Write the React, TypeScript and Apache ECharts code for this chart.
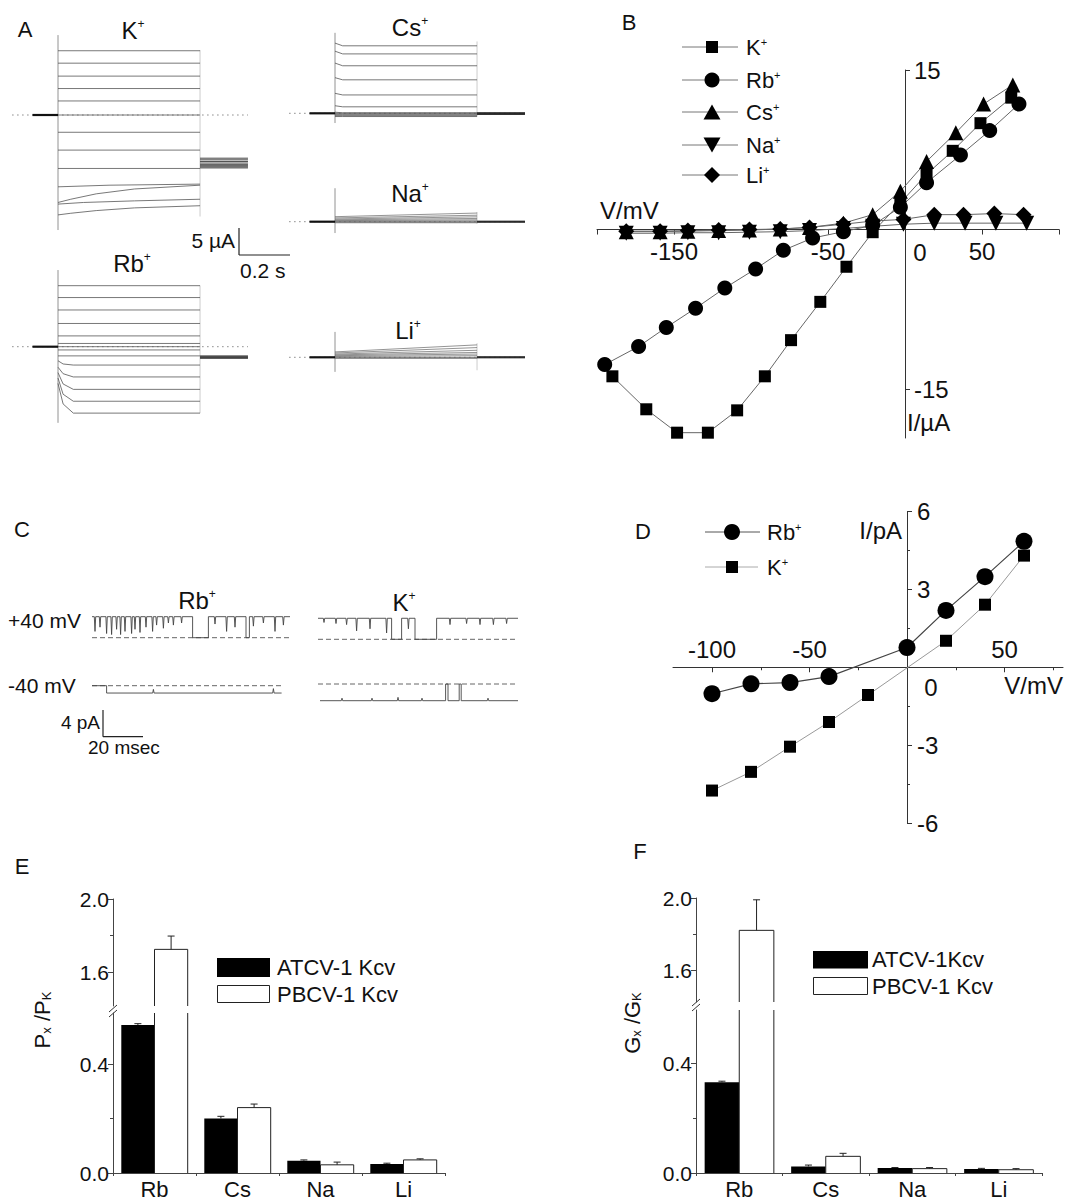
import React, { useEffect, useRef } from "react";
import * as echarts from "echarts";

const FONT = "'Liberation Sans', Arial, Helvetica, sans-serif";
const INK = "#111";
const TRACE = "#555";

// ---------------- Panel A: voltage-clamp current traces (time in s, current in µA) ----------------
const A_PULSE_END = 0.557;
const A_HOLD_START = -0.1;
const A_REC_END = 0.745;
const A_DOT_START = -0.18;

const A_K_LEVELS = [11.9, 9.6, 7.2, 4.9, 2.6, 0, -3.2, -6.5, -9.9];
const A_K_SLOW = [
  [[0, -13.3], [0.2, -13.0], [0.557, -12.8]],
  [[0, -16.2], [0.05, -15.6], [0.15, -14.6], [0.3, -13.7], [0.557, -13.0]],
  [[0, -16.5], [0.1, -16.2], [0.3, -15.9], [0.557, -15.6]],
  [[0, -18.5], [0.05, -18.2], [0.15, -17.7], [0.3, -17.2], [0.557, -16.8]],
];
const A_K_TAIL = [-8.0, -8.3, -8.6, -8.9, -9.2, -9.4, -9.6, -9.8];
const A_K_EDGES = [14.8, -21.3, 12.0, -18.8];

const A_RB_LEVELS = [11.3, 9.1, 6.8, 4.3, 2.0, 0.6, 0, -0.6, -1.7];
const A_RB_ACT_T0 = [-2.6, -3.8, -4.8, -5.8, -6.8];
const A_RB_ACT_T20 = [-3.2, -5.0, -6.9, -8.8, -10.6];
const A_RB_ACT_SS = [-3.4, -5.6, -7.9, -10.1, -12.3];
const A_RB_TAIL = [-1.7, -1.85, -1.95, -2.05, -2.15];
const A_RB_EDGES = [14.2, -14.1, 11.3, -12.3];

const A_CS_START = [13.0, 11.5, 9.3, 6.6, 3.7, 1.4, 0.2, 0, -0.15, -0.3, -0.45, -0.6];
const A_CS_SS = [12.5, 11.0, 8.8, 6.2, 3.4, 1.2, 0.1, 0, -0.15, -0.3, -0.45, -0.6];
const A_CS_TAIL = [0.1, 0, -0.1, -0.2];
const A_CS_EDGES = [14.9, -1.8, 13.3, -0.6];

const A_NA_START = [0.93, 0.7, 0.5, 0.35, 0.2, 0.1, 0, -0.1, -0.2];
const A_NA_END = [1.6, 1.2, 0.9, 0.6, 0.35, 0.15, 0, -0.1, -0.2];
const A_NA_TAIL = [0.1, 0, -0.1];
const A_NA_EDGES = [6.2, -2.1, 1.8, -0.4];

const A_LI_START = [1.0, 0.8, 0.6, 0.45, 0.3, 0.15, 0, -0.1, -0.2];
const A_LI_END = [2.3, 1.8, 1.3, 0.9, 0.6, 0.3, 0, -0.1, -0.2];
const A_LI_TAIL = [0.1, 0, -0.1];
const A_LI_EDGES = [4.7, -2.7, 2.6, -2.4];

// ---------------- Panel B: whole-cell I/V (mV, µA) ----------------
const B_K_V = [-190, -168, -148, -128, -109, -91, -74, -55, -38, -21, -3, 14, 31, 49, 69];
const B_K_I = [-13.8, -16.9, -19.1, -19.1, -17.0, -13.8, -10.4, -6.8, -3.5, -0.25, 2.5, 5.2, 7.4, 10.0, 12.4];
const B_RB_V = [-195, -173, -155, -136, -117, -97, -79, -60, -40, -21, -3, 14, 36, 55, 74];
const B_RB_I = [-12.7, -11.0, -9.2, -7.4, -5.5, -3.7, -1.95, -0.8, -0.2, 0.4, 2.1, 4.4, 7.0, 9.3, 11.8];
const B_CS_V = [-181, -159, -141, -121, -101, -81, -62, -40, -21, -3, 14, 33, 51, 70];
const B_CS_I = [-0.2, -0.2, -0.15, -0.1, -0.05, 0.05, 0.2, 0.6, 1.4, 3.6, 6.4, 9.1, 11.8, 13.6];
const B_NA_V = [-181, -159, -141, -121, -101, -81, -62, -40, -21, -1, 19, 39, 59, 79];
const B_NA_I = [-0.35, -0.35, -0.3, -0.3, -0.25, -0.2, -0.1, 0.1, 0.3, 0.5, 0.6, 0.6, 0.6, 0.6];
const B_LI_V = [-181, -159, -141, -121, -101, -81, -62, -40, -21, -1, 19, 38, 58, 77];
const B_LI_I = [-0.15, -0.15, -0.1, -0.05, 0, 0.05, 0.2, 0.5, 0.8, 0.95, 1.4, 1.4, 1.5, 1.4];
const B_X_RANGE = [-200, 100];
const B_Y_RANGE = [-19.6, 15];
const B_X_TICK_LABELS = [-150, -50, 50];
const B_Y_TICKS = [-15, 15];

// ---------------- Panel C: single-channel records (ms, pA) ----------------
const C_RB_POS_OPEN = 3.15;
const C_RB_POS_END = 99;
const C_RB_POS_SHUT = [[50.3, 58.2], [77, 78.7]];
const C_RB_POS_FLICK = [[1.5, 0.7], [4, 0.5], [7.3, 0.8], [9.8, 0.85], [12.3, 0.6], [14.3, 0.85], [16.5, 0.7], [19.8, 0.8], [21.5, 0.6], [24, 0.75], [27, 0.5], [30.3, 0.7], [32.3, 0.4], [35.7, 0.55], [38.2, 0.3], [40.7, 0.4], [44.8, 0.3], [61.5, 0.35], [67.3, 0.7], [71.5, 0.5], [80.7, 0.45], [85.7, 0.3], [91.5, 0.7], [95.7, 0.4]];
const C_RB_NEG_OPEN = -1.1;
const C_RB_NEG_END = 94.8;
const C_RB_NEG_SHUT = [[0, 7.3]];
const C_RB_NEG_FLICK = [[30.7, 0.5], [90.7, 0.6]];
const C_K_POS_OPEN = 3.15;
const C_K_POS_END = 100;
const C_K_POS_SHUT = [[36.8, 41.8], [48.5, 59.3]];
const C_K_POS_FLICK = [[3, 0.2], [9, 0.25], [14.3, 0.3], [19.3, 0.6], [26, 0.5], [34.3, 0.7], [45.2, 0.5], [66, 0.3], [74.3, 0.25], [81, 0.3], [87.7, 0.3], [94.3, 0.25]];
const C_K_NEG_OPEN = -2.5;
const C_K_NEG_END = 100;
const C_K_NEG_SHUT = [[63.8, 65.0], [70.6, 71.6]];
const C_K_NEG_FLICK = [[12, 0.15], [27, 0.15], [40, 0.2], [52, 0.15], [85, 0.15]];

// ---------------- Panel D: single-channel I/V (mV, pA) ----------------
const D_RB_V = [-100, -80, -60, -40, 0, 20, 40, 60];
const D_RB_I = [-1.02, -0.64, -0.59, -0.36, 0.76, 2.19, 3.49, 4.85];
const D_K_V = [-100, -80, -60, -40, -20, 20, 40, 60];
const D_K_I = [-4.75, -4.03, -3.06, -2.11, -1.07, 1.02, 2.41, 4.3];
const D_X_RANGE = [-120, 80];
const D_Y_RANGE = [-6, 6];
const D_X_TICKS = [-100, -50, 0, 50];
const D_X_MINOR = [-75, -25, 25, 75];
const D_X_LABELS = [-100, -50, 50];
const D_Y_LABELS = [-6, -3, 3, 6];

// ---------------- Panels E, F: permeability / conductance ratios ----------------
const CATS = ["Rb", "Cs", "Na", "Li"];
const E_ATCV = [0.543, 0.2, 0.045, 0.033];
const E_ATCV_ERR = [0.005, 0.008, 0.003, 0.003];
const E_PBCV = [1.724, 0.24, 0.03, 0.048];
const E_PBCV_ERR = [0.073, 0.013, 0.01, 0.004];
const F_ATCV = [0.332, 0.024, 0.018, 0.015];
const F_ATCV_ERR = [0.004, 0.005, 0.002, 0.002];
const F_PBCV = [1.821, 0.061, 0.016, 0.012];
const F_PBCV_ERR = [0.169, 0.011, 0.004, 0.004];
const BAR_TOP = 2.0;
const BAR_HIGH_TICKS = [1.6, 2.0];
const BAR_HIGH_MINOR = [1.8];
const BAR_LOW_TICKS = [0, 0.4];
const BAR_LOW_MINOR = [0.2];

type Box = { left: number; top: number; width: number; height: number };

function chan(open: number, end: number, shut: number[][], flick: number[][], start = 0) {
  const ev: any[] = [
    ...shut.map(([a, b]) => ({ t: a, c: true, a, b })),
    ...flick.map(([t, d]) => ({ t, c: false, d })),
  ].sort((p, q) => p.t - q.t);
  const pts: number[][] = [];
  if (!(ev.length && ev[0].c && ev[0].a <= start)) pts.push([start, open]);
  for (const e of ev) {
    if (e.c) {
      if (e.a > start) pts.push([e.a, open]);
      pts.push([Math.max(e.a, start), 0], [e.b, 0], [e.b, open]);
    } else {
      pts.push([e.t - 0.35, open], [e.t, open * (1 - e.d)], [e.t + 0.35, open]);
    }
  }
  pts.push([end, open]);
  return pts;
}

// pixel distance from the low end of an axis to its zero
const zeroFromLow = (range: number[], size: number) => ((0 - range[0]) / (range[1] - range[0])) * size;

function buildOption() {
  const grids: any[] = [];
  const xAxes: any[] = [];
  const yAxes: any[] = [];
  const xOver: any[] = [];
  const yOver: any[] = [];
  const series: any[] = [];
  const gfx: any[] = [];

  const pxGrid = (b: Box, origin: number[], pxX: number, pxY: number) => {
    const i = grids.length;
    grids.push({ ...b });
    xAxes.push({ gridIndex: i, type: "value", show: false, min: (b.left - origin[0]) / pxX, max: (b.left + b.width - origin[0]) / pxX });
    yAxes.push({ gridIndex: i, type: "value", show: false, max: (origin[1] - b.top) / pxY, min: (origin[1] - b.top - b.height) / pxY });
    return i;
  };
  const line = (g: number, data: number[][], color = TRACE, width = 0.8, type: any = "solid", z = 2) =>
    series.push({ type: "line", xAxisIndex: g, yAxisIndex: g, data, symbol: "none", silent: true, lineStyle: { color, width, type }, z, emphasis: { disabled: true } });

  const rich = (size: number) => ({
    sup: { fontSize: Math.round(size * 0.52), verticalAlign: "top", fill: INK, fontFamily: FONT },
    s: { fontSize: Math.round(size * 0.6), verticalAlign: "bottom", fill: INK, fontFamily: FONT },
  });
  const txt = (text: string, x: number, y: number, size: number, align = "center", v = "middle", extra: any = {}) =>
    gfx.push({
      type: "text", x, y, silent: true, ...extra,
      style: { text, fontSize: size, fontFamily: FONT, fill: INK, align, verticalAlign: v, textAlign: align, textVerticalAlign: v, rich: rich(size) },
    });
  const gl = (x1: number, y1: number, x2: number, y2: number, stroke = "#222", w = 1.2) =>
    gfx.push({ type: "line", silent: true, shape: { x1, y1, x2, y2 }, style: { stroke, lineWidth: w } });

  // ===== Panel A =====
  const PX_S = 255, PX_UA = 5.4;
  const aCommon = (g: number, e: number[]) => {
    line(g, [[A_DOT_START, 0], [A_REC_END, 0]], "#888", 1, [1.5, 3.5], 1);
    line(g, [[0, e[0]], [0, e[1]]], "#777", 0.8);
    line(g, [[A_PULSE_END, e[2]], [A_PULSE_END, e[3]]], "#aaa", 0.6);
    line(g, [[A_HOLD_START, 0], [0, 0]], "#111", 2.2, "solid", 3);
  };
  const gK = pxGrid({ left: 10, top: 30, width: 240, height: 205 }, [58, 115], PX_S, PX_UA);
  aCommon(gK, A_K_EDGES);
  A_K_LEVELS.forEach((v) => line(gK, [[0, v], [A_PULSE_END, v]]));
  A_K_SLOW.forEach((p) => line(gK, p));
  A_K_TAIL.forEach((v) => line(gK, [[A_PULSE_END, v], [A_REC_END, v]], "#333", 0.9));

  const gCs = pxGrid({ left: 283, top: 28, width: 245, height: 100 }, [335, 113.3], PX_S, PX_UA);
  aCommon(gCs, A_CS_EDGES);
  A_CS_START.forEach((s, i) => line(gCs, [[0, s], [0.03, A_CS_SS[i]], [A_PULSE_END, A_CS_SS[i]]]));
  A_CS_TAIL.forEach((v) => line(gCs, [[A_PULSE_END, v], [A_REC_END, v]], "#222", 1));

  const gNa = pxGrid({ left: 280, top: 183, width: 248, height: 55 }, [335, 221.7], PX_S, PX_UA);
  aCommon(gNa, A_NA_EDGES);
  A_NA_START.forEach((s, i) => line(gNa, [[0, s], [A_PULSE_END, A_NA_END[i]]], "#666", 0.7));
  A_NA_TAIL.forEach((v) => line(gNa, [[A_PULSE_END, v], [A_REC_END, v]], "#222", 1));

  const gLi = pxGrid({ left: 280, top: 325, width: 248, height: 52 }, [335, 357.3], PX_S, PX_UA);
  aCommon(gLi, A_LI_EDGES);
  A_LI_START.forEach((s, i) => line(gLi, [[0, s], [A_PULSE_END, A_LI_END[i]]], "#666", 0.7));
  A_LI_TAIL.forEach((v) => line(gLi, [[A_PULSE_END, v], [A_REC_END, v]], "#222", 1));

  const gRb = pxGrid({ left: 10, top: 265, width: 240, height: 165 }, [58, 346.7], PX_S, PX_UA);
  aCommon(gRb, A_RB_EDGES);
  A_RB_LEVELS.forEach((v) => line(gRb, [[0, v], [A_PULSE_END, v]]));
  A_RB_ACT_SS.forEach((ss, i) => line(gRb, [[0, A_RB_ACT_T0[i]], [0.02, A_RB_ACT_T20[i]], [0.06, ss], [A_PULSE_END, ss]]));
  A_RB_TAIL.forEach((v) => line(gRb, [[A_PULSE_END, v], [A_REC_END, v]], "#333", 0.9));

  txt("A", 25, 29, 22);
  txt("K{sup|+}", 133, 30, 24);
  txt("Cs{sup|+}", 410, 27, 24);
  txt("Na{sup|+}", 410, 193, 24);
  txt("Li{sup|+}", 408, 330, 24);
  txt("Rb{sup|+}", 132, 263, 24);
  txt("5 µA", 235, 240, 21, "right");
  txt("0.2 s", 240, 270, 21, "left");
  gl(239, 228, 239, 255);
  gl(239, 255, 290, 255);

  const axisLineStyle = { color: "#333", width: 1 };

  // ===== Panel B =====
  const gB = grids.length;
  const bBox = { left: 597, top: 70, width: 462, height: 368 };
  grids.push(bBox);
  xAxes.push({
    gridIndex: gB, type: "value", min: B_X_RANGE[0], max: B_X_RANGE[1], interval: 50, position: "bottom",
    offset: -zeroFromLow(B_Y_RANGE, bBox.height),
    axisLine: { show: true, onZero: false, lineStyle: axisLineStyle },
    axisTick: { show: true, length: 5, lineStyle: axisLineStyle },
    axisLabel: { customValues: B_X_TICK_LABELS, fontSize: 24, color: INK, fontFamily: FONT, margin: 10 },
    splitLine: { show: false },
  });
  yAxes.push({
    gridIndex: gB, type: "value", min: B_Y_RANGE[0], max: B_Y_RANGE[1], position: "left",
    offset: -zeroFromLow(B_X_RANGE, bBox.width),
    axisLine: { show: true, onZero: false, lineStyle: axisLineStyle },
    axisTick: { show: true, inside: true, length: 5, customValues: B_Y_TICKS, lineStyle: axisLineStyle },
    axisLabel: { inside: true, customValues: B_Y_TICKS, fontSize: 24, color: INK, fontFamily: FONT, margin: 9 },
    splitLine: { show: false },
  });
  const bSer = (V: number[], I: number[], symbol: string, size: any, rot = 0) =>
    series.push({
      type: "line", xAxisIndex: gB, yAxisIndex: gB, data: V.map((v, i) => [v, I[i]]),
      symbol, symbolSize: size, symbolRotate: rot, itemStyle: { color: "#000" },
      lineStyle: { color: "#666", width: 1 }, silent: true, z: 3, emphasis: { disabled: true },
    });
  bSer(B_LI_V, B_LI_I, "diamond", 16);
  bSer(B_NA_V, B_NA_I, "triangle", 15, 180);
  bSer(B_CS_V, B_CS_I, "triangle", 15);
  bSer(B_RB_V, B_RB_I, "circle", 15);
  bSer(B_K_V, B_K_I, "rect", 12);

  txt("B", 629, 22, 22);
  txt("V/mV", 600, 210, 24, "left");
  txt("0", 920, 252, 24);
  txt("I/µA", 907, 422, 24, "left");
  const bLeg = [47, 80, 112, 145, 175];
  const bNames = ["K", "Rb", "Cs", "Na", "Li"];
  bLeg.forEach((y, i) => {
    gl(682, y, 738, y, "#777", 1);
    txt(bNames[i] + "{sup|+}", 746, y, 22, "left");
  });
  gfx.push({ type: "rect", silent: true, shape: { x: 706, y: 41, width: 12, height: 12 }, style: { fill: "#000" } });
  gfx.push({ type: "circle", silent: true, shape: { cx: 712, cy: 80, r: 7.5 }, style: { fill: "#000" } });
  gfx.push({ type: "polygon", silent: true, shape: { points: [[712, 104.5], [720.5, 119.5], [703.5, 119.5]] }, style: { fill: "#000" } });
  gfx.push({ type: "polygon", silent: true, shape: { points: [[703.5, 137.5], [720.5, 137.5], [712, 152.5]] }, style: { fill: "#000" } });
  gfx.push({ type: "polygon", silent: true, shape: { points: [[712, 167], [720, 175], [712, 183], [704, 175]] }, style: { fill: "#000" } });

  // ===== Panel C =====
  const PX_MS = 2, PX_PA = 6.675;
  const cRp = pxGrid({ left: 88, top: 605, width: 208, height: 40 }, [92, 637.7], PX_MS, PX_PA);
  const cRn = pxGrid({ left: 88, top: 672, width: 208, height: 30 }, [92, 685.7], PX_MS, PX_PA);
  const cKp = pxGrid({ left: 314, top: 605, width: 208, height: 40 }, [318, 639.3], PX_MS, PX_PA);
  const cKn = pxGrid({ left: 314, top: 670, width: 208, height: 38 }, [318, 684], PX_MS, PX_PA);
  const dash = (g: number, end: number) => line(g, [[0, 0], [end, 0]], "#666", 1, [5, 3], 1);
  dash(cRp, 100); dash(cRn, 95); dash(cKp, 100); dash(cKn, 100);
  line(cRp, chan(C_RB_POS_OPEN, C_RB_POS_END, C_RB_POS_SHUT, C_RB_POS_FLICK), "#444", 0.9);
  line(cRn, chan(C_RB_NEG_OPEN, C_RB_NEG_END, C_RB_NEG_SHUT, C_RB_NEG_FLICK), "#444", 0.9);
  line(cKp, chan(C_K_POS_OPEN, C_K_POS_END, C_K_POS_SHUT, C_K_POS_FLICK), "#444", 0.9);
  line(cKn, chan(C_K_NEG_OPEN, C_K_NEG_END, C_K_NEG_SHUT, C_K_NEG_FLICK, 1), "#444", 0.9);
  txt("C", 22, 529, 22);
  txt("Rb{sup|+}", 197, 600, 24);
  txt("K{sup|+}", 404, 602, 24);
  txt("+40 mV", 8, 620, 21, "left");
  txt("-40 mV", 8, 685, 21, "left");
  txt("4 pA", 100, 722, 19, "right");
  txt("20 msec", 88, 747, 19, "left");
  gl(103, 710, 103, 736.7);
  gl(103, 736.7, 143, 736.7);

  // ===== Panel D =====
  const gD = grids.length;
  const dBox = { left: 673, top: 511.5, width: 390, height: 311.5 };
  grids.push(dBox);
  const dXOffset = -zeroFromLow(D_Y_RANGE, dBox.height);
  xAxes.push({
    gridIndex: gD, type: "value", min: D_X_RANGE[0], max: D_X_RANGE[1], position: "bottom", offset: dXOffset,
    axisLine: { show: true, onZero: false, lineStyle: axisLineStyle },
    axisTick: { show: true, length: 5, customValues: D_X_TICKS, lineStyle: axisLineStyle },
    axisLabel: { inside: true, customValues: D_X_LABELS, fontSize: 24, color: INK, fontFamily: FONT, margin: 6 },
    splitLine: { show: false },
  });
  yAxes.push({
    gridIndex: gD, type: "value", min: D_Y_RANGE[0], max: D_Y_RANGE[1], interval: 3, position: "left",
    offset: -zeroFromLow(D_X_RANGE, dBox.width),
    axisLine: { show: true, onZero: false, lineStyle: axisLineStyle },
    axisTick: { show: true, inside: true, length: 5, lineStyle: axisLineStyle },
    minorTick: { show: true, splitNumber: 2, length: 3, lineStyle: axisLineStyle },
    axisLabel: { inside: true, customValues: D_Y_LABELS, fontSize: 24, color: INK, fontFamily: FONT, margin: 10 },
    splitLine: { show: false }, minorSplitLine: { show: false },
  });
  xOver.push({
    gridIndex: gD, type: "value", min: D_X_RANGE[0], max: D_X_RANGE[1], position: "bottom", offset: dXOffset,
    axisLine: { show: false, onZero: false },
    axisTick: { show: true, length: 3, customValues: D_X_MINOR, lineStyle: axisLineStyle },
    axisLabel: { show: false }, splitLine: { show: false },
  });
  series.push({
    type: "line", xAxisIndex: gD, yAxisIndex: gD, data: D_K_V.map((v, i) => [v, D_K_I[i]]),
    symbol: "rect", symbolSize: 12, itemStyle: { color: "#000" }, lineStyle: { color: "#999", width: 1 }, silent: true, z: 3,
  });
  series.push({
    type: "line", xAxisIndex: gD, yAxisIndex: gD, data: D_RB_V.map((v, i) => [v, D_RB_I[i]]),
    symbol: "circle", symbolSize: 17, itemStyle: { color: "#000" }, lineStyle: { color: "#444", width: 1.2 }, silent: true, z: 4,
  });
  txt("D", 643, 531, 22);
  txt("I/pA", 902, 530, 24, "right");
  txt("V/mV", 1063, 685, 24, "right");
  txt("0", 931, 687, 24);
  gl(705, 532, 760, 532, "#555", 1);
  gfx.push({ type: "circle", silent: true, shape: { cx: 732, cy: 532, r: 8 }, style: { fill: "#000" } });
  txt("Rb{sup|+}", 767, 532, 22, "left");
  gl(705, 567, 758, 567, "#aaa", 1);
  gfx.push({ type: "rect", silent: true, shape: { x: 726, y: 561, width: 12, height: 12 }, style: { fill: "#000" } });
  txt("K{sup|+}", 767, 567, 22, "left");

  // ===== Panels E, F =====
  const yStyle = (ticks: number[]) => ({
    axisLine: { show: true, onZero: false, lineStyle: { color: "#444", width: 1 } },
    axisTick: { show: true, customValues: ticks, length: 5, lineStyle: { color: "#444" } },
    axisLabel: { customValues: ticks, formatter: (v: number) => v.toFixed(1), fontSize: 21, color: INK, fontFamily: FONT, margin: 4 },
    splitLine: { show: false },
  });
  const minorY = (g: number, min: number, max: number, ticks: number[]) =>
    yOver.push({
      gridIndex: g, type: "value", min, max, position: "left",
      axisLine: { show: false, onZero: false },
      axisTick: { show: true, customValues: ticks, length: 3, lineStyle: { color: "#444" } },
      axisLabel: { show: false }, splitLine: { show: false },
    });
  const outlineItem = (params: any, api: any) => {
    const cat = api.value(0), v = api.value(1);
    const band = api.size([1, 0], [cat, v])[0];
    const cs = params.coordSys;
    const c = api.coord([cat, v]);
    const bottom = cs.y + cs.height;
    const yTop = c[1];
    if (yTop >= bottom - 0.5) return null;
    const yBase = Math.min(api.coord([cat, 0])[1], bottom);
    const xl = c[0], xr = c[0] + band * 0.4;
    const st = { stroke: "#222", lineWidth: 1, fill: null };
    if (yTop < cs.y) {
      return {
        type: "group", children: [
          { type: "line", shape: { x1: xl, y1: yBase, x2: xl, y2: cs.y }, style: st },
          { type: "line", shape: { x1: xr, y1: yBase, x2: xr, y2: cs.y }, style: st },
        ],
      };
    }
    return { type: "polyline", shape: { points: [[xl, yBase], [xl, yTop], [xr, yTop], [xr, yBase]] }, style: st };
  };
  const errItem = (params: any, api: any) => {
    const cat = api.value(0), v = api.value(1), e = api.value(2), side = api.value(3);
    const band = api.size([1, 0], [cat, v])[0];
    const cs = params.coordSys;
    const c0 = api.coord([cat, v]);
    const c1 = api.coord([cat, v + e]);
    if (c0[1] < cs.y - 0.5 || c0[1] > cs.y + cs.height + 0.5) return null;
    const x = c0[0] + side * band * 0.2;
    const st = { stroke: "#222", lineWidth: 1 };
    return {
      type: "group", children: [
        { type: "line", shape: { x1: x, y1: c0[1], x2: x, y2: c1[1] }, style: st },
        { type: "line", shape: { x1: x - 3.5, y1: c1[1], x2: x + 3.5, y2: c1[1] }, style: st },
      ],
    };
  };
  const barPanel = (up: Box, low: Box, pxUp: number, pxLow: number, atcv: number[], atcvErr: number[], pbcv: number[], pbcvErr: number[]) => {
    const gU = grids.length;
    grids.push(up);
    const upMin = BAR_TOP - up.height / pxUp;
    xAxes.push({ gridIndex: gU, type: "category", data: CATS, show: false });
    yAxes.push({ gridIndex: gU, type: "value", min: upMin, max: BAR_TOP, ...yStyle(BAR_HIGH_TICKS) });
    const gL = grids.length;
    grids.push(low);
    const lowMax = low.height / pxLow;
    xAxes.push({
      gridIndex: gL, type: "category", data: CATS,
      axisLine: { show: true, onZero: false, lineStyle: { color: "#444", width: 1 } },
      axisTick: { show: true, length: 3, lineStyle: { color: "#444" } },
      axisLabel: { fontSize: 22, color: INK, fontFamily: FONT, margin: 5 },
      splitLine: { show: false },
    });
    yAxes.push({ gridIndex: gL, type: "value", min: 0, max: lowMax, ...yStyle(BAR_LOW_TICKS) });
    minorY(gU, upMin, BAR_TOP, BAR_HIGH_MINOR);
    minorY(gL, 0, lowMax, BAR_LOW_MINOR);
    const errData = [
      ...atcv.map((v, i) => [i, v, atcvErr[i], -1]),
      ...pbcv.map((v, i) => [i, v, pbcvErr[i], 1]),
    ];
    [gU, gL].forEach((g) => {
      series.push({ type: "bar", name: "ATCV-1 Kcv", xAxisIndex: g, yAxisIndex: g, data: atcv, barGap: "0%", barCategoryGap: "20%", itemStyle: { color: "#000" }, silent: true, z: 2 });
      series.push({ type: "bar", name: "PBCV-1 Kcv", xAxisIndex: g, yAxisIndex: g, data: pbcv, barGap: "0%", barCategoryGap: "20%", itemStyle: { color: "#fff" }, silent: true, z: 2 });
      series.push({ type: "custom", xAxisIndex: g, yAxisIndex: g, data: pbcv.map((v, i) => [i, v]), renderItem: outlineItem, silent: true, z: 4 });
      series.push({ type: "custom", xAxisIndex: g, yAxisIndex: g, data: errData, renderItem: errItem, silent: true, z: 5 });
    });
  };
  barPanel({ left: 113, top: 899, width: 332, height: 107 }, { left: 113, top: 1013, width: 332, height: 160 }, 182.5, 272.5, E_ATCV, E_ATCV_ERR, E_PBCV, E_PBCV_ERR);
  barPanel({ left: 696, top: 898, width: 346, height: 104 }, { left: 696, top: 1010, width: 346, height: 163 }, 180.75, 273.25, F_ATCV, F_ATCV_ERR, F_PBCV, F_PBCV_ERR);

  txt("E", 22, 866, 22);
  txt("P{s|x} /P{s|K}", 42, 1020, 22, "center", "middle", { rotation: Math.PI / 2 });
  gfx.push({ type: "rect", silent: true, shape: { x: 217, y: 958, width: 53, height: 19 }, style: { fill: "#000" } });
  gfx.push({ type: "rect", silent: true, shape: { x: 217.5, y: 985.5, width: 52, height: 17 }, style: { fill: "#fff", stroke: "#222", lineWidth: 1 } });
  txt("ATCV-1 Kcv", 277, 967, 22, "left");
  txt("PBCV-1 Kcv", 277, 994, 22, "left");
  gl(109, 1012, 117, 1005, "#333", 1);
  gl(109, 1017, 117, 1010, "#333", 1);

  txt("F", 640, 851, 22);
  txt("G{s|x} /G{s|K}", 632, 1023, 22, "center", "middle", { rotation: Math.PI / 2 });
  gfx.push({ type: "rect", silent: true, shape: { x: 813, y: 951, width: 55, height: 17.5 }, style: { fill: "#000" } });
  gfx.push({ type: "rect", silent: true, shape: { x: 813.5, y: 977.5, width: 54, height: 17 }, style: { fill: "#fff", stroke: "#222", lineWidth: 1 } });
  txt("ATCV-1Kcv", 872, 959.5, 22, "left");
  txt("PBCV-1 Kcv", 872, 986, 22, "left");
  gl(692, 1006, 700, 999, "#333", 1);
  gl(692, 1011, 700, 1004, "#333", 1);

  return {
    animation: false,
    backgroundColor: "#fff",
    textStyle: { fontFamily: FONT },
    grid: grids,
    xAxis: [...xAxes, ...xOver],
    yAxis: [...yAxes, ...yOver],
    series,
    graphic: { elements: gfx },
  };
}

export default function App() {
  const ref = useRef<HTMLDivElement>(null);
  useEffect(() => {
    document.body.style.margin = "0";
    const chart = echarts.init(ref.current!, null, { renderer: "svg" });
    chart.setOption(buildOption() as any);
    return () => chart.dispose();
  }, []);
  return <div ref={ref} style={{ width: 1071, height: 1201, background: "#fff" }} />;
}
